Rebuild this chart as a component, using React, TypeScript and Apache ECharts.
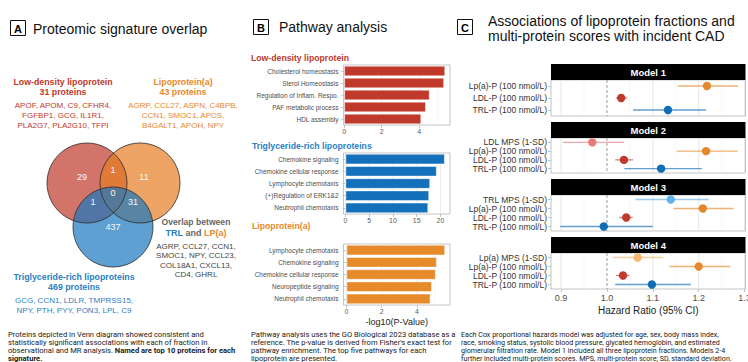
import React, { useEffect, useRef } from 'react';
import * as echarts from 'echarts';

const SANS = '"Liberation Sans", Arial, Helvetica, sans-serif';
const CAP = 'Roboto, "Liberation Sans", sans-serif';

// ---------------- data ----------------
const vennSetNames = ['Low-density lipoprotein', 'Lipoprotein(a)', 'Triglyceride-rich lipoproteins'];
const vennSetTotals = [31, 43, 469];
// LDL only, LDL∩Lp(a), Lp(a) only, all three, LDL∩TRL, Lp(a)∩TRL, TRL only
const vennRegionCounts = [29, 1, 11, 0, 1, 31, 437];
const ldlTopProteins = ['APOF, APOM, C9, CFHR4,', 'FGFBP1, GCG, IL1R1,', 'PLA2G7, PLA2G10, TFPI'];
const lpaTopProteins = ['AGRP, CCL27, ASPN, C4BPB,', 'CCN1, SMOC1, APCS,', 'B4GALT1, APOH, NPY'];
const trlTopProteins = ['GCG, CCN1, LDLR, TMPRSS15,', 'NPY, PTH, PYY, PON3, LPL, C9'];
const trlLpaOverlapProteins = ['AGRP, CCL27, CCN1,', 'SMOC1, NPY, CCL23,', 'COL18A1, CXCL13,', 'CD4, GHRL'];

const ldlPathways = ['Cholesterol homeostasis', 'Sterol Homeostasis', 'Regulation of Inflam. Respo.', 'PAF metabolic process', 'HDL assembly'];
const ldlLogP = [5.39, 5.33, 4.56, 4.36, 4.11];
const trlPathways = ['Chemokine signaling', 'Chemokine cellular response', 'Lymphocyte chemotaxis', '(+)Regulation of ERK1&2', 'Neutrophil chemotaxis'];
const trlLogP = [20.9, 19.2, 17.8, 17.6, 17.4];
const lpaPathways = ['Lymphocyte chemotaxis', 'Chemokine signaling', 'Chemokine cellular response', 'Neuropeptide signaling', 'Neutrophil chemotaxis'];
const lpaLogP = [5.6, 5.13, 5.07, 4.85, 4.77];
const ldlTicks = [0, 2, 4];
const trlTicks = [0, 5, 10, 15, 20];
const lpaTicks = [0, 2, 4];

const model1Terms = ['Lp(a)-P (100 nmol/L)', 'LDL-P (100 nmol/L)', 'TRL-P (100 nmol/L)'];
const model1HR = [1.218, 1.031, 1.133];
const model1Lo = [1.154, 1.02, 1.057];
const model1Hi = [1.286, 1.044, 1.216];
const model2Terms = ['LDL MPS (1-SD)', 'Lp(a)-P (100 nmol/L)', 'LDL-P (100 nmol/L)', 'TRL-P (100 nmol/L)'];
const model2HR = [0.968, 1.216, 1.037, 1.118];
const model2Lo = [0.904, 1.152, 1.018, 1.038];
const model2Hi = [1.037, 1.285, 1.057, 1.207];
const model3Terms = ['TRL MPS (1-SD)', 'Lp(a)-P (100 nmol/L)', 'LDL-P (100 nmol/L)', 'TRL-P (100 nmol/L)'];
const model3HR = [1.139, 1.209, 1.042, 0.993];
const model3Lo = [1.062, 1.145, 1.027, 0.898];
const model3Hi = [1.222, 1.276, 1.056, 1.1];
const model4Terms = ['Lp(a) MPS (1-SD)', 'Lp(a)-P (100 nmol/L)', 'LDL-P (100 nmol/L)', 'TRL-P (100 nmol/L)'];
const model4HR = [1.067, 1.2, 1.035, 1.098];
const model4Lo = [1.013, 1.136, 1.02, 1.018];
const model4Hi = [1.123, 1.269, 1.049, 1.183];
const modelNames = ['Model 1', 'Model 2', 'Model 3', 'Model 4'];
const hrTicks = [0.9, 1.0, 1.1, 1.2, 1.3];

// ---------------- styles ----------------
const RED = '#c0392b';
const ORANGE = '#e68a2a';
const BLUE = '#1570bb';
const termColors: Record<string, string> = {
  'Lp(a)-P (100 nmol/L)': '#e3892b',
  'LDL-P (100 nmol/L)': '#c0392b',
  'TRL-P (100 nmol/L)': '#0f6cb6',
  'LDL MPS (1-SD)': '#ea7b7b',
  'TRL MPS (1-SD)': '#62b0ec',
  'Lp(a) MPS (1-SD)': '#f6b86b',
};

const txt = (x: number, y: number, text: string, o: any = {}) => ({
  type: 'text',
  x,
  y,
  silent: true,
  style: {
    text,
    fill: o.fill || '#1a1a1a',
    fontSize: o.size || 8,
    fontWeight: o.bold ? 'bold' : 'normal',
    fontFamily: o.family || SANS,
    textAlign: o.align || 'left',
    textVerticalAlign: o.valign || 'middle',
    lineHeight: o.lh,
    rich: o.rich,
  },
});

export default function App() {
  const ref = useRef<HTMLDivElement>(null);
  useEffect(() => {
    if (!ref.current) return;
    const chart = echarts.init(ref.current, undefined, { renderer: 'svg' });

    const bGrids = [
      { top: 65, height: 60, names: ldlPathways, vals: ldlLogP, color: RED, min: -0.04, max: 5.65, ticks: ldlTicks, minor: [1, 3, 5] },
      { top: 153, height: 61, names: trlPathways, vals: trlLogP, color: BLUE, min: -0.42, max: 22.0, ticks: trlTicks, minor: [2.5, 7.5, 12.5, 17.5] },
      { top: 244, height: 61, names: lpaPathways, vals: lpaLogP, color: ORANGE, min: -0.17, max: 5.88, ticks: lpaTicks, minor: [1, 3, 5] },
    ];
    const models = [
      { terms: model1Terms, hr: model1HR, lo: model1Lo, hi: model1Hi, top: 80, height: 36 },
      { terms: model2Terms, hr: model2HR, lo: model2Lo, hi: model2Hi, top: 138, height: 35 },
      { terms: model3Terms, hr: model3HR, lo: model3Lo, hi: model3Hi, top: 195, height: 36 },
      { terms: model4Terms, hr: model4HR, lo: model4Lo, hi: model4Hi, top: 253, height: 36 },
    ];
    const C_LEFT = 551;
    const C_W = 194.5;

    const grids: any[] = [];
    const xAxes: any[] = [];
    const yAxes: any[] = [];
    const series: any[] = [];

    const vLines = (idx: number, values: number[], color: string, width: number, dash?: number[]) => ({
      type: 'custom',
      xAxisIndex: idx,
      yAxisIndex: idx,
      z: 1,
      silent: true,
      data: values.map((v) => [v, 0]),
      encode: { x: 0, y: 1 },
      renderItem: (params: any, api: any) => {
        const cs = params.coordSys;
        const x = api.coord([api.value(0), 0])[0];
        return {
          type: 'line',
          shape: { x1: x, y1: cs.y, x2: x, y2: cs.y + cs.height },
          style: { stroke: color, lineWidth: width, lineDash: dash },
        };
      },
    });

    bGrids.forEach((g, k) => {
      grids.push({ left: 343.5, top: g.top, width: 106.5, height: g.height, show: true, borderColor: '#b5b5b5', borderWidth: 0.8, backgroundColor: 'transparent', outerBoundsMode: 'none' });
      xAxes.push({
        type: 'value', gridIndex: k, min: g.min, max: g.max,
        axisLine: { show: false }, splitLine: { show: false },
        axisTick: { show: true, customValues: g.ticks, length: 3, lineStyle: { color: '#b5b5b5', width: 0.8 } },
        axisLabel: { customValues: g.ticks, fontSize: 7, color: '#5a5a5a', margin: 3, fontFamily: SANS },
        ...(k === 2 ? { name: '-log10(P-Value)', nameLocation: 'middle', nameGap: 12, nameTextStyle: { fontSize: 9, color: '#222', fontFamily: SANS } } : {}),
      });
      yAxes.push({
        type: 'category', gridIndex: k, inverse: true, data: g.names,
        axisLine: { show: false }, splitLine: { show: false },
        axisTick: { show: true, alignWithLabel: true, interval: 0, length: 3, lineStyle: { color: '#b5b5b5', width: 0.8 } },
        axisLabel: { interval: 0, fontSize: 6.5, color: '#4d4d4d', margin: 5, fontFamily: SANS },
      });
      series.push(vLines(k, g.ticks, '#e2e2e2', 0.7));
      series.push(vLines(k, g.minor, '#efefef', 0.5));
      series.push({
        type: 'bar', xAxisIndex: k, yAxisIndex: k, data: g.vals, barWidth: 10.4, z: 2,
        itemStyle: { color: g.color, borderColor: 'rgba(255,255,255,0.55)', borderWidth: 0.8 },
      });
    });

    models.forEach((m, j) => {
      const k = 3 + j;
      const last = j === models.length - 1;
      grids.push({ left: C_LEFT, top: m.top, width: C_W, height: m.height, show: true, borderColor: '#b5b5b5', borderWidth: 0.8, backgroundColor: 'transparent', outerBoundsMode: 'none' });
      xAxes.push({
        type: 'value', gridIndex: k, min: 0.878, max: 1.302,
        axisLine: { show: false }, splitLine: { show: false },
        axisTick: { show: last, customValues: hrTicks, length: 3, lineStyle: { color: '#b5b5b5', width: 0.8 } },
        axisLabel: { show: last, customValues: hrTicks, fontSize: 9, color: '#4d4d4d', margin: 4, fontFamily: SANS, formatter: (v: number) => v.toFixed(1) },
        ...(last ? { name: 'Hazard Ratio (95% CI)', nameLocation: 'middle', nameGap: 16, nameTextStyle: { fontSize: 10, color: '#222', fontFamily: SANS } } : {}),
      });
      yAxes.push({
        type: 'category', gridIndex: k, inverse: true, data: m.terms,
        axisLine: { show: false }, splitLine: { show: false },
        axisTick: { show: true, alignWithLabel: true, interval: 0, length: 3, lineStyle: { color: '#b5b5b5', width: 0.8 } },
        axisLabel: { interval: 0, hideOverlap: false, fontSize: 8.5, color: '#333', margin: 4, fontFamily: SANS },
      });
      series.push(vLines(k, [0.9, 1.1, 1.2, 1.3], '#e0e0e0', 0.8));
      series.push(vLines(k, [0.95, 1.05, 1.15, 1.25], '#eeeeee', 0.6));
      series.push(vLines(k, [1.0], '#9a9a9a', 1, [3, 2]));
      series.push({
        type: 'custom', xAxisIndex: k, yAxisIndex: k, z: 3,
        data: m.terms.map((_, i) => [m.hr[i], i, m.lo[i], m.hi[i]]),
        encode: { x: [0, 2, 3], y: 1 },
        renderItem: (params: any, api: any) => {
          const i = params.dataIndex;
          const p = api.coord([api.value(0), api.value(1)]);
          const l = api.coord([api.value(2), api.value(1)]);
          const h = api.coord([api.value(3), api.value(1)]);
          const c = termColors[m.terms[i]] || '#333';
          return {
            type: 'group',
            children: [
              { type: 'line', shape: { x1: l[0], y1: p[1], x2: h[0], y2: p[1] }, style: { stroke: c, lineWidth: 1.3, opacity: 0.65 } },
              { type: 'circle', shape: { cx: p[0], cy: p[1], r: 4.2 }, style: { fill: c } },
            ],
          };
        },
      });
    });

    // ---------------- graphic (panel A, titles, captions, strips) ----------------
    const g: any[] = [];
    const box = (x: number, y: number, letter: string) => {
      g.push({ type: 'rect', silent: true, shape: { x, y, width: 15, height: 15 }, style: { fill: '#fff', stroke: '#111', lineWidth: 1 } });
      g.push(txt(x + 7.5, y + 8, letter, { size: 11, bold: true, align: 'center', fill: '#000' }));
    };
    box(10.5, 20.5, 'A');
    box(253.5, 19.5, 'B');
    box(457.5, 19.5, 'C');
    g.push(txt(33, 28.5, 'Proteomic signature overlap', { size: 14, fill: '#111' }));
    g.push(txt(279, 27, 'Pathway analysis', { size: 14, fill: '#111' }));
    g.push(txt(488, 21, 'Associations of lipoprotein fractions and', { size: 14, fill: '#111' }));
    g.push(txt(488, 35.5, 'multi-protein scores with incident CAD', { size: 14, fill: '#111' }));

    // Venn headers
    const RED_T = '#c0392b', OR_T = '#e8892b', BL_T = '#2a80c4', GR_T = '#666666';
    g.push(txt(63, 76.5, `${vennSetNames[0]}\n${vennSetTotals[0]} proteins`, { size: 8.8, bold: true, fill: RED_T, align: 'center', valign: 'top', lh: 10 }));
    g.push(txt(63, 100.5, ldlTopProteins.join('\n'), { size: 8, fill: RED_T, align: 'center', valign: 'top', lh: 10 }));
    g.push(txt(183, 76.5, `${vennSetNames[1]}\n${vennSetTotals[1]} proteins`, { size: 8.8, bold: true, fill: OR_T, align: 'center', valign: 'top', lh: 10 }));
    g.push(txt(183, 100.5, lpaTopProteins.join('\n'), { size: 8, fill: OR_T, align: 'center', valign: 'top', lh: 10 }));
    g.push(txt(74, 271.7, `${vennSetNames[2]}\n${vennSetTotals[2]} proteins`, { size: 8.8, bold: true, fill: BL_T, align: 'center', valign: 'top', lh: 10 }));
    g.push(txt(74, 296.2, trlTopProteins.join('\n'), { size: 8, fill: BL_T, align: 'center', valign: 'top', lh: 9.5 }));

    // Venn circles
    const circles = [
      { cx: 87, cy: 183, r: 40, c: 'rgb(192,57,43)' },
      { cx: 140, cy: 183, r: 40, c: 'rgb(230,126,34)' },
      { cx: 113, cy: 227, r: 40, c: 'rgb(26,119,191)' },
    ];
    circles.forEach((c) => g.push({ type: 'circle', silent: true, shape: { cx: c.cx, cy: c.cy, r: c.r }, style: { fill: c.c, opacity: 0.7 } }));
    circles.forEach((c) => g.push({ type: 'circle', silent: true, shape: { cx: c.cx, cy: c.cy, r: c.r }, style: { fill: 'none', stroke: '#2b2b2b', lineWidth: 0.8 } }));
    const regionPos = [[82, 177], [113, 170], [144, 177], [113, 193], [93, 202], [133, 202], [113, 227]];
    vennRegionCounts.forEach((n, i) => g.push(txt(regionPos[i][0], regionPos[i][1], String(n), { size: 9, fill: '#f7f7f7', align: 'center' })));

    // overlap annotation
    g.push(txt(196, 222, 'Overlap between', { size: 8.6, bold: true, fill: GR_T, align: 'center' }));
    g.push({
      type: 'text', x: 196, y: 233, silent: true,
      style: {
        text: '{b|TRL} {g|and} {o|LP(a)}', textAlign: 'center', textVerticalAlign: 'middle',
        fontSize: 9, fontFamily: SANS, fontWeight: 'bold', fill: GR_T,
        rich: {
          b: { fontSize: 9, fontFamily: SANS, fontWeight: 'bold', fill: BL_T },
          g: { fontSize: 9, fontFamily: SANS, fontWeight: 'bold', fill: GR_T },
          o: { fontSize: 9, fontFamily: SANS, fontWeight: 'bold', fill: OR_T },
        },
      },
    });
    g.push(txt(196, 241.3, trlLpaOverlapProteins.join('\n'), { size: 8, fill: '#444', align: 'center', valign: 'top', lh: 9.5 }));

    // B subtitles
    g.push(txt(251, 58, 'Low-density lipoprotein', { size: 8.7, bold: true, fill: RED_T }));
    g.push(txt(252, 146, 'Triglyceride-rich lipoproteins', { size: 8.7, bold: true, fill: BL_T }));
    g.push(txt(252, 226, 'Lipoprotein(a)', { size: 8.7, bold: true, fill: OR_T }));

    // C strips
    models.forEach((m, j) => {
      g.push({ type: 'rect', silent: true, shape: { x: C_LEFT, y: m.top - 16, width: C_W, height: 16 }, style: { fill: '#000' } });
      g.push(txt(C_LEFT + C_W / 2, m.top - 8, modelNames[j], { size: 9.5, bold: true, fill: '#fff', align: 'center' }));
    });

    // captions
    const capRich = (size: number) => ({
      n: { fontSize: size, fontFamily: CAP, fill: '#1a1a1a', lineHeight: 8 },
      b: { fontSize: size, fontFamily: CAP, fontWeight: 'bold', fill: '#1a1a1a', lineHeight: 8 },
    });
    const caption = (x: number, text: string, size: number) =>
      g.push({
        type: 'text', x, y: 330.3, silent: true,
        style: { text, fontSize: size, fontFamily: CAP, fill: '#1a1a1a', textAlign: 'left', textVerticalAlign: 'top', lineHeight: 8, rich: capRich(size) },
      });
    caption(8, '{n|Proteins depicted in Venn diagram showed consistent and}\n{n|statistically significant associations with each of fraction in}\n{n|observational and MR analysis. }{b|Named are top 10 proteins for each}\n{b|signature.}', 7.6);
    caption(251, "{n|Pathway analysis uses the GO Biological 2023 database as a}\n{n|reference. The p-value is derived from Fisher's exact test for}\n{n|pathway enrichment. The top five pathways for each}\n{n|lipoprotein are presented.}", 7.6);
    caption(461, '{n|Each Cox proportional hazards model was adjusted for age, sex, body mass index,}\n{n|race, smoking status, systolic blood pressure, glycated hemoglobin, and estimated}\n{n|glomerular filtration rate. Model 1 included all three lipoprotein fractions. Models 2-4}\n{n|further included multi-protein scores. MPS, multi-protein score; SD, standard deviation.}', 7.1);

    chart.setOption({
      animation: false,
      backgroundColor: '#ffffff',
      textStyle: { fontFamily: SANS },
      grid: grids,
      xAxis: xAxes,
      yAxis: yAxes,
      series,
      graphic: g,
    });
    return () => chart.dispose();
  }, []);
  return <div ref={ref} style={{ position: 'fixed', left: 0, top: 0, width: 748, height: 362 }} />;
}
